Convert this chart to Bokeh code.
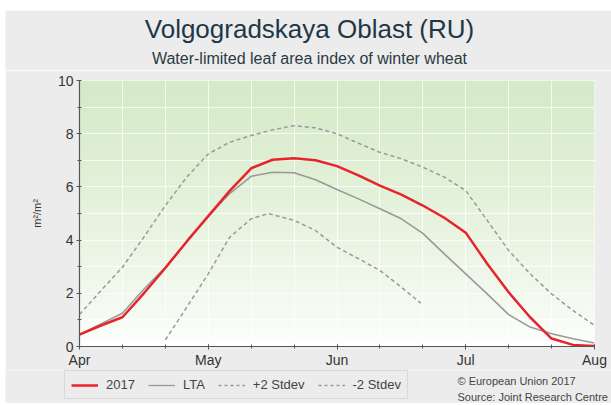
import numpy as np
from bokeh.plotting import figure
from bokeh.layouts import column
from bokeh.models import FixedTicker, Legend, LegendItem, Label, Range1d
from bokeh.embed import file_html
from bokeh.resources import INLINE

# ---------------- data (dekads from 1 April) ----------------
dekads = [0, 0.5, 1, 1.5, 2, 2.5, 3, 3.5, 4, 4.5, 5, 5.5, 6, 6.5, 7, 7.5, 8,
          8.5, 9, 9.5, 10, 10.5, 11, 11.5, 12]
lai_2017 = [0.45, 0.79, 1.1, 2.0, 2.95, 3.95, 4.9, 5.85, 6.7, 7.02, 7.08, 7.0,
            6.78, 6.43, 6.05, 5.71, 5.3, 4.84, 4.28, 3.11, 2.04, 1.1, 0.3, 0.06, 0.02]
lai_lta = [0.45, 0.85, 1.25, 2.15, 2.98, 3.95, 4.9, 5.75, 6.4, 6.55, 6.53, 6.27,
           5.9, 5.55, 5.18, 4.8, 4.25, 3.48, 2.73, 1.98, 1.2, 0.73, 0.48, 0.29, 0.13]
lai_plus2 = [1.2, 2.1, 2.98, 4.11, 5.3, 6.37, 7.24, 7.68, 7.93, 8.15, 8.3, 8.22,
             8.0, 7.64, 7.3, 7.06, 6.74, 6.37, 5.86, 4.74, 3.61, 2.73, 1.98, 1.35, 0.79]
dekads_minus2 = [2, 2.5, 3, 3.5, 4, 4.4, 5, 5.5, 6, 6.5, 7, 7.5, 7.95]
lai_minus2 = [0.25, 1.48, 2.73, 4.11, 4.8, 5.0, 4.74, 4.36, 3.73, 3.3, 2.86, 2.23, 1.63]

month_ticks = [0, 3, 6, 9, 12]
month_labels = ["Apr", "May", "Jun", "Jul", "Aug"]
y_ticks = [0, 2, 4, 6, 8, 10]

title_text = "Volgogradskaya Oblast (RU)"
subtitle_text = "Water-limited leaf area index of winter wheat"
series_names = ["2017", "LTA", "+2 Stdev", "-2 Stdev"]
source_lines = ["© European Union 2017", "Source: Joint Research Centre"]

FONT = "Liberation Sans"
BG = "#ececec"
W = 606
RED = "#e8242b"
GREY = "#999999"


def blank(height):
    f = figure(width=W, height=height, output_backend="svg", toolbar_location=None,
               x_range=Range1d(0, W), y_range=Range1d(0, height),
               x_axis_type=None, y_axis_type=None, frame_align=False,
               min_border=0, min_border_left=0, min_border_right=0,
               min_border_top=0, min_border_bottom=0)
    f.border_fill_color = BG
    f.background_fill_color = BG
    f.outline_line_color = None
    f.xgrid.visible = False
    f.ygrid.visible = False
    return f


# ---------------- header ----------------
H = blank(60)
H.add_layout(Label(x=304, y=42, text=title_text, text_align="center",
                   text_baseline="middle", text_font=FONT, text_font_size="26px",
                   text_color="#1f3745"))
H.add_layout(Label(x=304, y=12, text=subtitle_text, text_align="center",
                   text_baseline="middle", text_font=FONT, text_font_size="16px",
                   text_color="#2b3a44"))

# ---------------- main chart ----------------
p = figure(width=W, height=300, output_backend="svg", toolbar_location=None,
           x_range=Range1d(0, 12), y_range=Range1d(0, 10), frame_align=False,
           min_border_left=74, min_border_right=17, min_border_top=10,
           min_border_bottom=20)
p.border_fill_color = BG
p.background_fill_color = "white"
p.outline_line_color = None

N = 200
t = np.linspace(0, 1, N)
fgrad = t ** 0.75
top = np.array([213, 234, 199])
col = (255 + (top - 255) * fgrad[:, None]).astype(np.uint8)
img = np.zeros((N, 1), dtype=np.uint32)
view = img.view(dtype=np.uint8).reshape((N, 1, 4))
view[:, 0, 0] = col[:, 0]
view[:, 0, 1] = col[:, 1]
view[:, 0, 2] = col[:, 2]
view[:, 0, 3] = 255
p.image_rgba(image=[img], x=0, y=0, dw=12, dh=10, level="image")

p.xgrid.ticker = FixedTicker(ticks=list(range(13)))
p.ygrid.ticker = FixedTicker(ticks=list(range(11)))
for g in (p.xgrid, p.ygrid):
    g.grid_line_color = "white"
    g.grid_line_alpha = 0.75
    g.grid_line_width = 1

p.xaxis.ticker = FixedTicker(ticks=month_ticks, minor_ticks=list(range(13)))
p.xaxis.major_label_overrides = {k: v for k, v in zip(month_ticks, month_labels)}
p.yaxis.ticker = FixedTicker(ticks=y_ticks, minor_ticks=[1, 3, 5, 7, 9])
for ax in (p.xaxis, p.yaxis):
    ax.axis_line_color = "#555555"
    ax.axis_line_width = 1.2
    ax.major_tick_line_color = "#555555"
    ax.minor_tick_line_color = "#555555"
    ax.major_tick_in = 2
    ax.major_tick_out = 3
    ax.minor_tick_in = 2
    ax.minor_tick_out = 2
    ax.major_label_text_font = FONT
    ax.major_label_text_font_size = "14px"
    ax.major_label_text_color = "#333333"
p.xaxis.major_label_standoff = 2
p.yaxis.major_label_standoff = 3
p.yaxis.axis_label = "m²/m²"
p.yaxis.axis_label_text_font = FONT
p.yaxis.axis_label_text_font_size = "11px"
p.yaxis.axis_label_text_font_style = "normal"
p.yaxis.axis_label_text_color = "#333333"
p.yaxis.axis_label_standoff = 12

p.line(dekads, lai_plus2, line_color=GREY, line_width=1.5, line_dash="4 3")
p.line(dekads_minus2, lai_minus2, line_color=GREY, line_width=1.5, line_dash="4 3")
p.line(dekads, lai_lta, line_color=GREY, line_width=1.6)
p.line(dekads, lai_2017, line_color=RED, line_width=2.5)

# ---------------- footer: legend + source ----------------
F = blank(33)
styles = [dict(line_color=RED, line_width=2.5),
          dict(line_color=GREY, line_width=1.3),
          dict(line_color=GREY, line_width=1.5, line_dash="3 3"),
          dict(line_color=GREY, line_width=1.5, line_dash="3 3")]
items = []
nan = float("nan")
for name, st in zip(series_names, styles):
    # legend swatch only: a single undefined point draws nothing on the canvas
    r = F.line(x=[nan], y=[nan], **st)
    items.append(LegendItem(label=name, renderers=[r]))
legend = Legend(items=items, orientation="horizontal", location=(59, 4),
                glyph_width=27, glyph_height=14, label_standoff=8, spacing=13,
                padding=6, margin=0,
                label_text_font=FONT, label_text_font_size="13px",
                label_text_color="#444444",
                background_fill_color=BG, background_fill_alpha=1,
                border_line_color="#c4c4c4", border_line_width=1.5)
F.add_layout(legend, "center")
F.add_layout(Label(x=452, y=23, text=source_lines[0], text_align="left",
                   text_baseline="middle", text_font=FONT, text_font_size="11px",
                   text_color="#444444"))
F.add_layout(Label(x=452, y=7, text=source_lines[1], text_align="left",
                   text_baseline="middle", text_font=FONT, text_font_size="11px",
                   text_color="#444444"))

layout = column(H, p, F, spacing=0, margin=(10, 0, 0, 5))
open("out.html", "w").write(file_html(layout, INLINE))
